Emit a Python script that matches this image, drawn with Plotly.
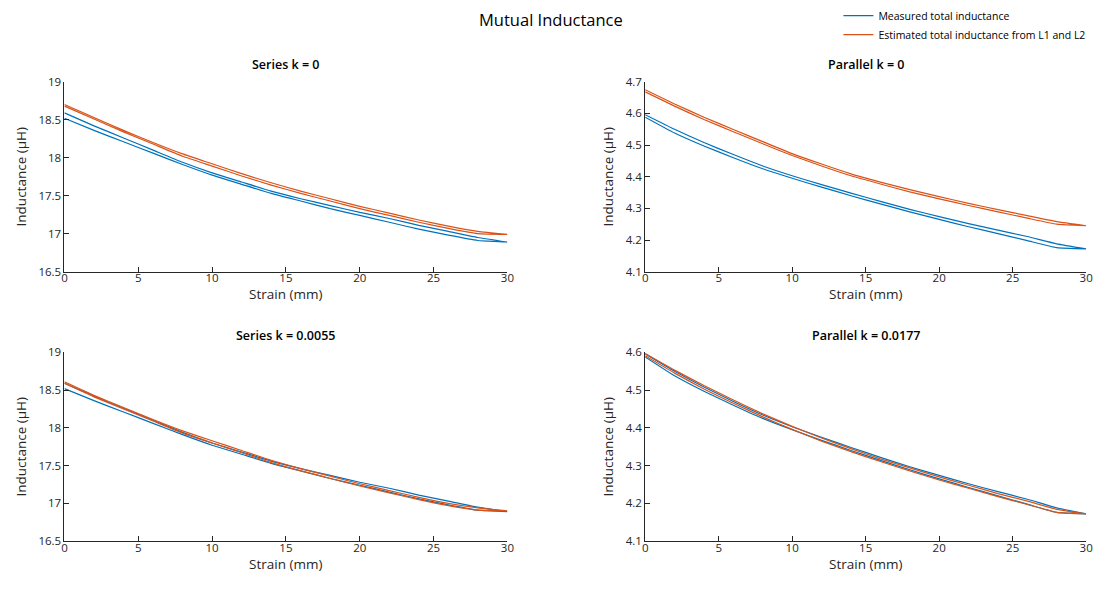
import plotly.graph_objects as go

# Strain steps (mm) at which inductance was sampled
strain_mm = [0, 2, 4, 6, 8, 10, 12, 14, 16, 18, 20, 22, 24, 26, 28, 30]

# Series connection: measured total inductance (uH), loading / unloading
series_measured_loading = [18.52, 18.36, 18.21, 18.06, 17.91, 17.77, 17.65, 17.53, 17.43, 17.33,
                           17.24, 17.15, 17.06, 16.98, 16.91, 16.89]
series_measured_unloading = [18.59, 18.42, 18.26, 18.10, 17.94, 17.80, 17.68, 17.56, 17.46, 17.37,
                             17.28, 17.20, 17.11, 17.03, 16.95, 16.89]

# Series connection: estimated from L1 and L2, k = 0
series_est_k0_loading = [18.68, 18.51, 18.34, 18.18, 18.02, 17.89, 17.76, 17.64, 17.53, 17.43,
                         17.33, 17.24, 17.15, 17.07, 17.00, 16.99]
series_est_k0_unloading = [18.70, 18.53, 18.36, 18.20, 18.05, 17.92, 17.79, 17.67, 17.56, 17.46,
                           17.36, 17.27, 17.18, 17.10, 17.03, 16.99]

# Series connection: estimated from L1 and L2, k = 0.0055
series_est_k1_loading = [18.59, 18.41, 18.25, 18.09, 17.93, 17.80, 17.67, 17.54, 17.43, 17.33,
                         17.23, 17.14, 17.05, 16.97, 16.91, 16.90]
series_est_k1_unloading = [18.61, 18.43, 18.27, 18.11, 17.96, 17.83, 17.70, 17.57, 17.46, 17.36,
                           17.26, 17.17, 17.08, 17.00, 16.94, 16.90]

# Parallel connection: measured total inductance (uH)
parallel_measured_loading = [4.588, 4.538, 4.497, 4.460, 4.425, 4.395, 4.367, 4.340, 4.314, 4.289,
                             4.265, 4.242, 4.220, 4.198, 4.176, 4.172]
parallel_measured_unloading = [4.596, 4.550, 4.508, 4.470, 4.434, 4.403, 4.375, 4.348, 4.322, 4.297,
                               4.274, 4.252, 4.231, 4.211, 4.188, 4.172]

# Parallel connection: estimated from L1 and L2, k = 0
parallel_est_k0_loading = [4.668, 4.623, 4.581, 4.542, 4.504, 4.467, 4.434, 4.403, 4.377, 4.352,
                           4.330, 4.309, 4.289, 4.269, 4.250, 4.245]
parallel_est_k0_unloading = [4.675, 4.630, 4.588, 4.549, 4.511, 4.473, 4.440, 4.409, 4.383, 4.359,
                             4.337, 4.316, 4.296, 4.277, 4.258, 4.245]

# Parallel connection: estimated from L1 and L2, k = 0.0177
parallel_est_k1_loading = [4.591, 4.545, 4.503, 4.465, 4.429, 4.396, 4.365, 4.337, 4.311, 4.286,
                           4.262, 4.240, 4.218, 4.197, 4.176, 4.172]
parallel_est_k1_unloading = [4.597, 4.553, 4.512, 4.474, 4.437, 4.404, 4.373, 4.345, 4.318, 4.294,
                             4.270, 4.248, 4.226, 4.206, 4.184, 4.172]

panel_titles = ["Series k = 0", "Parallel k = 0", "Series k = 0.0055", "Parallel k = 0.0177"]
legend_names = ["Measured total inductance", "Estimated total inductance from L1 and L2"]
x_title = "Strain (mm)"
y_title = "Inductance (\u03bcH)"
x_ticks = [0, 5, 10, 15, 20, 25, 30]
series_ticks = [16.5, 17, 17.5, 18, 18.5, 19]
parallel_ticks_top = [4.1, 4.2, 4.3, 4.4, 4.5, 4.6, 4.7]
parallel_ticks_bottom = [4.1, 4.2, 4.3, 4.4, 4.5, 4.6]

BLUE = "#0072BD"
ORANGE = "#D95319"
AXIS = "#262626"
FONT = "'Open Sans', Lato, sans-serif"
W, H = 1110, 592

panels = [
    # (measured loop, estimated loop, y range, y ticks, x-domain px, y-domain px)
    ((series_measured_loading, series_measured_unloading),
     (series_est_k0_loading, series_est_k0_unloading),
     [16.5, 19], series_ticks, (62, 509), (75.7, 270.5)),
    ((parallel_measured_loading, parallel_measured_unloading),
     (parallel_est_k0_loading, parallel_est_k0_unloading),
     [4.1, 4.7], parallel_ticks_top, (648, 1093), (75.7, 270.5)),
    ((series_measured_loading, series_measured_unloading),
     (series_est_k1_loading, series_est_k1_unloading),
     [16.5, 19], series_ticks, (62, 509), (353.3, 547)),
    ((parallel_measured_loading, parallel_measured_unloading),
     (parallel_est_k1_loading, parallel_est_k1_unloading),
     [4.1, 4.6], parallel_ticks_bottom, (648, 1093), (353.3, 547)),
]


def loop(branches):
    loading, unloading = branches
    xs = list(strain_mm) + list(reversed(strain_mm))
    ys = list(loading) + list(reversed(unloading))
    return xs, ys


fig = go.Figure()
annotations = []

for i, (meas, est, yrange, yticks, xdom, ydom) in enumerate(panels):
    n = i + 1
    xa = "x" if n == 1 else f"x{n}"
    ya = "y" if n == 1 else f"y{n}"
    for branches, color, name in ((meas, BLUE, legend_names[0]), (est, ORANGE, legend_names[1])):
        xs, ys = loop(branches)
        fig.add_trace(go.Scatter(
            x=xs, y=ys, mode="lines", name=name,
            line=dict(color=color, width=1.2, shape="spline", smoothing=0.4),
            xaxis=xa, yaxis=ya, legendgroup=name, showlegend=(n == 1),
            hoverinfo="x+y",
        ))

    x_dom = [xdom[0] / W, xdom[1] / W]
    y_dom = [1 - ydom[1] / H, 1 - ydom[0] / H]
    axis_common = dict(
        showline=True, linecolor=AXIS, linewidth=1, mirror=False,
        ticks="inside", ticklen=5, tickcolor=AXIS, tickwidth=1,
        showgrid=False, zeroline=False,
        tickfont=dict(family=FONT, size=11.5, color=AXIS),
        title_font=dict(family=FONT, size=13.5, color=AXIS),
    )
    fig.update_layout(**{
        ("xaxis" if n == 1 else f"xaxis{n}"): dict(
            axis_common, domain=x_dom, range=[0, 30], tickvals=x_ticks,
            anchor=ya, ticklabelstandoff=-4,
        ),
        ("yaxis" if n == 1 else f"yaxis{n}"): dict(
            axis_common, domain=y_dom, range=yrange, tickvals=yticks,
            ticktext=[f"{v:g}" for v in yticks],
            anchor=xa, title=dict(text=y_title, standoff=8),
        ),
    })
    # strain label under each panel, set close to the tick labels
    annotations.append(dict(
        text=x_title, x=(x_dom[0] + x_dom[1]) / 2, y=1 - (ydom[1] + 23) / H,
        xref="paper", yref="paper", showarrow=False, xanchor="center", yanchor="middle",
        font=dict(family=FONT, size=13.5, color=AXIS),
    ))
    annotations.append(dict(
        text=panel_titles[i], x=(x_dom[0] + x_dom[1]) / 2, y=1 - (ydom[0] - 17.5) / H,
        xref="paper", yref="paper", showarrow=False, xanchor="center", yanchor="middle",
        font=dict(family=FONT, size=12.5, color="#000000", weight=600),
    ))

annotations.append(dict(
    text="Mutual Inductance", x=553 / W, y=1 - 12 / H, xref="paper", yref="paper",
    showarrow=False, xanchor="center", yanchor="middle",
    font=dict(family=FONT, size=16.5, color="#000000"),
))

fig.update_layout(
    width=W, height=H,
    margin=dict(l=0, r=0, t=0, b=0),
    paper_bgcolor="white", plot_bgcolor="white",
    annotations=annotations,
    showlegend=True,
    legend=dict(
        x=843 / W, y=1 + 7 / H, xanchor="left", yanchor="top",
        bgcolor="rgba(0,0,0,0)", borderwidth=0,
        font=dict(family=FONT, size=10.5, color="#000000"),
        tracegroupgap=0,
    ),
)

fig.write_html("out.html")
